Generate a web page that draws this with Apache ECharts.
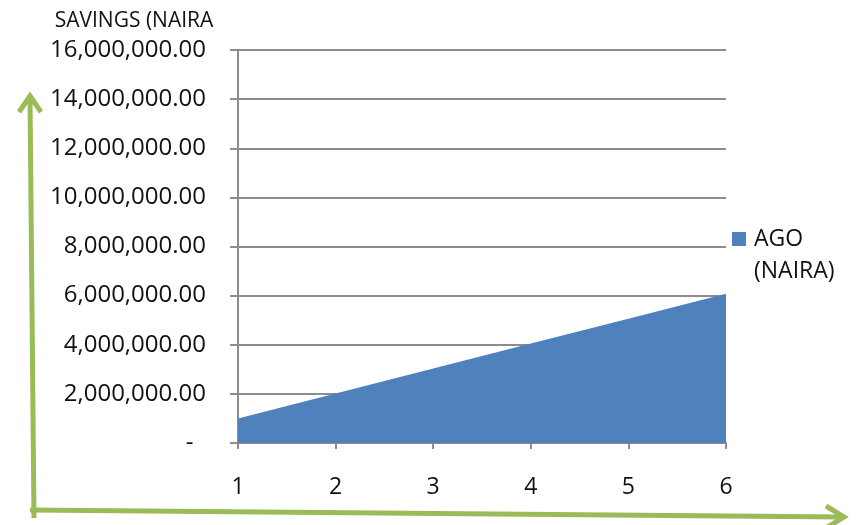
<!DOCTYPE html>
<html>
<head>
<meta charset="utf-8">
<script src="https://cdn.jsdelivr.net/npm/echarts@6/dist/echarts.min.js"></script>
<style>
  html, body { margin: 0; padding: 0; background: #fff; }
  #chart { width: 856px; height: 525px; }
</style>
</head>
<body>
<div id="chart"></div>
<script>
// Years of operation and cumulative AGO savings in naira
const categories = ['1', '2', '3', '4', '5', '6'];
const agoSavings = [1000000, 2020000, 3030000, 4050000, 5060000, 6080000];
const seriesName = 'AGO (NAIRA)';
const yAxisTitle = 'SAVINGS (NAIRA';

const FONT = '"Open Sans", "Noto Sans", sans-serif';
const GRID_GRAY = '#8c8c8c';
const GREEN = '#9bbb59';

function formatNaira(v) {
  if (v === 0) return '-  ';
  return v.toLocaleString('en-US', { minimumFractionDigits: 2, maximumFractionDigits: 2 });
}

const chart = echarts.init(document.getElementById('chart'));
chart.setOption({
  animation: false,
  backgroundColor: '#fff',
  grid: { left: 238, right: 130, top: 50, bottom: 82 },
  legend: {
    data: [seriesName],
    left: 732,
    top: 191,
    padding: 0,
    orient: 'vertical',
    icon: 'rect',
    itemWidth: 14,
    itemHeight: 14,
    itemGap: 8,
    formatter: () => ' \nAGO\n(NAIRA)',
    textStyle: { fontFamily: FONT, fontSize: 23, color: '#111', lineHeight: 32, padding: [0, 0, 0, 3] }
  },
  xAxis: {
    type: 'category',
    data: categories,
    boundaryGap: false,
    axisLine: { lineStyle: { color: GRID_GRAY, width: 2 } },
    axisTick: { show: true, length: 6, lineStyle: { color: GRID_GRAY, width: 2 } },
    axisLabel: { margin: 33, fontFamily: FONT, fontSize: 23, color: '#111' },
    splitLine: { show: false }
  },
  yAxis: {
    type: 'value',
    min: 0,
    max: 16000000,
    interval: 2000000,
    name: yAxisTitle,
    nameLocation: 'end',
    nameGap: 18,
    nameTextStyle: { fontFamily: FONT, fontSize: 21, color: '#111', align: 'center', padding: [0, 0, 0, -208] },
    axisLine: { show: true, lineStyle: { color: GRID_GRAY, width: 2 } },
    axisTick: { show: true, length: 8, lineStyle: { color: GRID_GRAY, width: 2 } },
    axisLabel: { margin: 32, fontFamily: FONT, fontSize: 24, color: '#111', formatter: formatNaira },
    splitLine: { show: true, lineStyle: { color: GRID_GRAY, width: 2 } }
  },
  series: [{
    name: seriesName,
    type: 'line',
    data: agoSavings,
    showSymbol: false,
    symbol: 'none',
    color: '#4f81bd',
    lineStyle: { width: 0, color: '#4f81bd' },
    areaStyle: { color: '#4f81bd', opacity: 1 }
  }],
  graphic: [
    // hand-drawn style axis arrows
    {
      type: 'polyline',
      shape: { points: [[34, 518], [30, 97]] },
      style: { stroke: GREEN, lineWidth: 5, fill: null },
      z: 100
    },
    {
      type: 'polyline',
      shape: { points: [[19, 112], [30, 96], [41, 112]] },
      style: { stroke: GREEN, lineWidth: 5, fill: null, lineJoin: 'miter' },
      z: 100
    },
    {
      type: 'polyline',
      shape: { points: [[30, 510], [843, 517]] },
      style: { stroke: GREEN, lineWidth: 5, fill: null },
      z: 100
    },
    {
      type: 'polyline',
      shape: { points: [[826, 506], [844, 517], [826, 528]] },
      style: { stroke: GREEN, lineWidth: 5, fill: null, lineJoin: 'miter' },
      z: 100
    }
  ]
});
</script>
</body>
</html>
